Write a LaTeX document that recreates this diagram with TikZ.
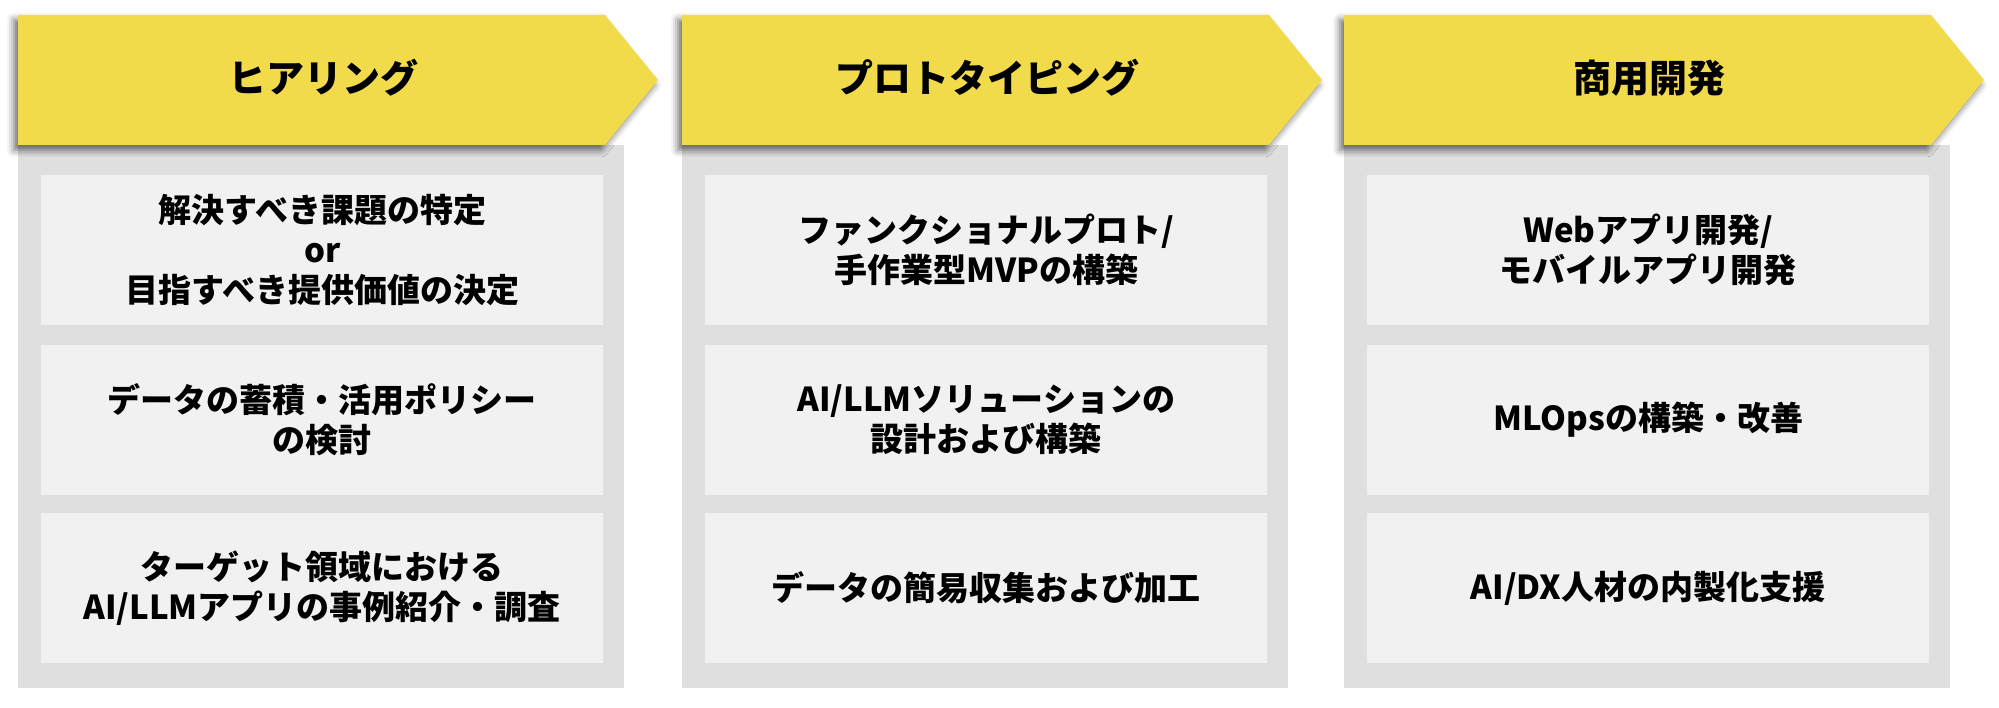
\documentclass[tikz,border=0pt]{standalone}
\usepackage{fontspec}
\setmainfont{Noto Sans CJK JP}
\usetikzlibrary{positioning,shadows.blur}
\definecolor{banneryellow}{RGB}{242,219,75}
\definecolor{colgray}{RGB}{223,223,223}
\definecolor{boxgray}{RGB}{241,241,241}

\begin{document}
\begin{tikzpicture}[x=1pt, y=-1pt,
		column/.style={fill=colgray},
		banner/.style={fill=banneryellow, blur shadow={shadow xshift=-4pt, shadow yshift=-5pt,
				shadow blur radius=7pt, shadow opacity=60}},
		heading/.style={font=\fontsize{38}{44}\selectfont\bfseries},
		item/.style={fill=boxgray, minimum width=562pt, minimum height=150pt, inner sep=0pt,
			align=center, font=\fontsize{33}{40}\selectfont\bfseries}]
		
		\useasboundingbox (0,0) rectangle (1999,708);
		
		% hearing
		\fill[column] (18,145) rectangle (624,688);
		\fill[banner] (18,15) -- (605,15) -- (658,80) -- (605,145) -- (18,145) -- cycle;
		\node[heading] (hearing) at (323,78) {ヒアリング};
		\node[item, anchor=north west] (h1) at (41,175) {解決すべき課題の特定\\or\\目指すべき提供価値の決定};
		\node[item, below=19pt of h1] (h2) {データの蓄積・活用ポリシー\\の検討};
		\node[item, below=18pt of h2] (h3) {ターゲット領域における\\AI/LLMアプリの事例紹介・調査};
		
		% prototyping
		\fill[column] (682,145) rectangle (1288,688);
		\fill[banner] (682,15) -- (1269,15) -- (1322,80) -- (1269,145) -- (682,145) -- cycle;
		\node[heading] (proto) at (987,78) {プロトタイピング};
		\node[item, anchor=north west] (p1) at (705,175) {ファンクショナルプロト/\\手作業型MVPの構築};
		\node[item, below=19pt of p1] (p2) {AI/LLMソリューションの\\設計および構築};
		\node[item, below=18pt of p2] (p3) {データの簡易収集および加工};
		
		% commercial development
		\fill[column] (1344,145) rectangle (1950,688);
		\fill[banner] (1344,15) -- (1931,15) -- (1984,80) -- (1931,145) -- (1344,145) -- cycle;
		\node[heading] (dev) at (1649,78) {商用開発};
		\node[item, anchor=north west] (d1) at (1367,175) {Webアプリ開発/\\モバイルアプリ開発};
		\node[item, below=19pt of d1] (d2) {MLOpsの構築・改善};
		\node[item, below=18pt of d2] (d3) {AI/DX人材の内製化支援};
		
\end{tikzpicture}
\end{document}
